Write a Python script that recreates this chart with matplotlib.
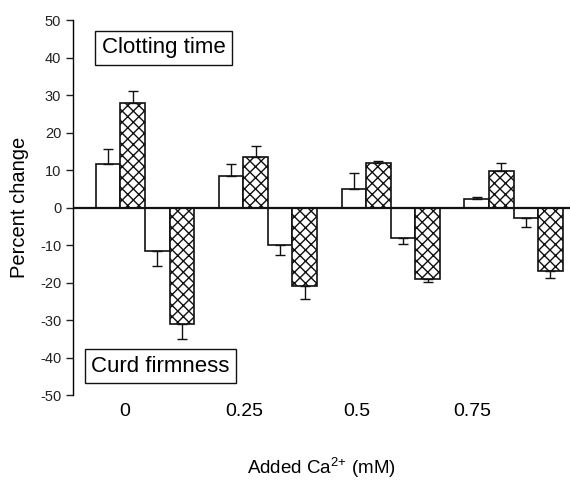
import numpy as np
from matplotlib import pyplot as plt

plt.rcParams['font.family'] = ['Liberation Sans', 'DejaVu Sans']
plt.rcParams['mathtext.fontset'] = 'custom'
plt.rcParams['mathtext.rm'] = 'Liberation Sans'
plt.rcParams['hatch.linewidth'] = 1.0
plt.rcParams['axes.unicode_minus'] = False

calcium = ['0', '0.25', '0.5', '0.75']

# clotting time (positive) and curd firmness (negative), open / hatched bars
clot_open = [11.6, 8.3, 4.9, 2.4]
clot_open_err = [15.7, 11.6, 9.2, 2.9]
clot_hatch = [28.0, 13.5, 12.0, 9.8]
clot_hatch_err = [31.0, 16.3, 12.5, 11.9]
firm_open = [-11.6, -10.0, -8.0, -2.7]
firm_open_err = [-15.5, -12.7, -9.8, -5.2]
firm_hatch = [-31.1, -20.9, -19.0, -16.8]
firm_hatch_err = [-35.0, -24.5, -19.9, -18.9]

fig = plt.figure(figsize=(5.7, 4.8), dpi=100)
ax = fig.add_axes([0.128, 0.177, 0.872, 0.781])

x = np.arange(len(calcium))
w = 0.2
series = [(clot_open, clot_open_err, ''),
          (clot_hatch, clot_hatch_err, 'xxx'),
          (firm_open, firm_open_err, ''),
          (firm_hatch, firm_hatch_err, 'xxx')]

for k, (vals, tops, hatch) in enumerate(series):
    pos = x + (k - 1.5) * w
    vals = np.array(vals)
    tops = np.array(tops)
    ax.bar(pos, vals, w, color='white', edgecolor='#111111', linewidth=1.2,
           hatch=hatch, zorder=2)
    up = np.where(vals > 0, tops - vals, 0)
    dn = np.where(vals < 0, vals - tops, 0)
    ax.errorbar(pos, vals, yerr=[dn, up], fmt='none', ecolor='#111111',
                elinewidth=1.0, capsize=3.5, capthick=1.0, zorder=3)

ax.axhline(0, color='#111111', lw=1.6, zorder=4)

ax.set_xlim(-0.587, 3.46)
ax.set_ylim(-50, 50)
ax.set_yticks(np.arange(-50, 51, 10))
ax.set_xticks([-0.163, 0.807, 1.728, 2.665])
ax.set_xticklabels(calcium, fontsize=14)
ax.tick_params(axis='x', length=0, pad=6)
ax.tick_params(axis='y', labelsize=10.5, length=5, width=1, colors='#222222')
for s in ['top', 'right', 'bottom']:
    ax.spines[s].set_visible(False)
ax.spines['left'].set_linewidth(1.0)

ax.set_ylabel('Percent change', fontsize=14.5, labelpad=8)
ax.set_xlabel(r'Added Ca$^{\mathregular{2{+}}}$ (mM)', fontsize=13.5, labelpad=25)

box = dict(boxstyle='square,pad=0.3', facecolor='white', edgecolor='#111111', lw=1)
ax.text(0.15, 42.6, 'Clotting time', fontsize=16, ha='center', va='center', bbox=box)
ax.text(0.126, -42.3, 'Curd firmness', fontsize=16, ha='center', va='center', bbox=box)

fig.savefig('out.png', dpi=100)
